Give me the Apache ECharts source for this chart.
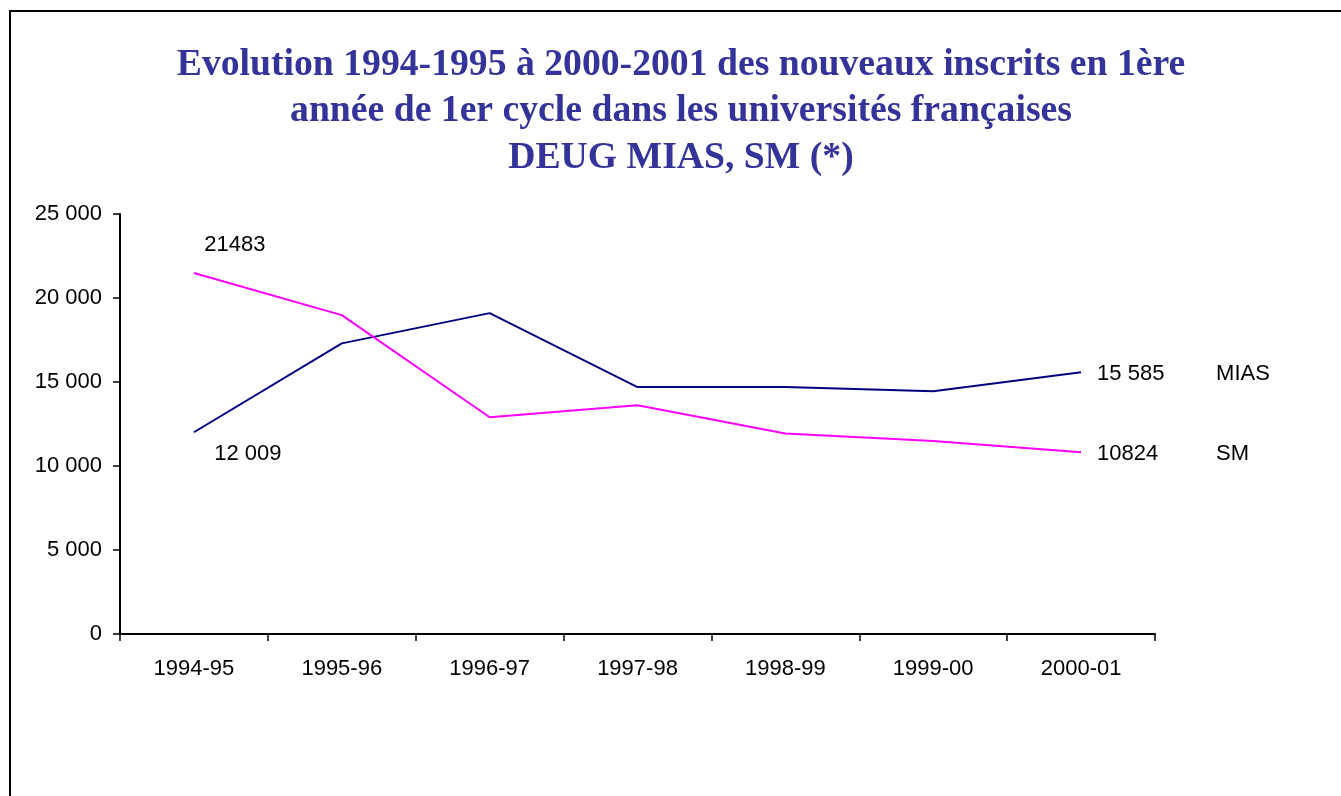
<!DOCTYPE html>
<html>
<head>
<meta charset="utf-8">
<script src="https://cdn.jsdelivr.net/npm/echarts@6/dist/echarts.min.js"></script>
<style>
  html, body { margin: 0; padding: 0; background: #fff; }
  #chart { width: 1341px; height: 796px; }
</style>
</head>
<body>
<div id="chart"></div>
<script>
// données
var years = ['1994-95', '1995-96', '1996-97', '1997-98', '1998-99', '1999-00', '2000-01'];
var mias = [12009, 17300, 19100, 14700, 14700, 14450, 15585];
var sm = [21483, 18980, 12900, 13610, 11930, 11490, 10824];
var yTicks = [0, 5000, 10000, 15000, 20000, 25000];

var titleText = 'Evolution 1994-1995 à 2000-2001 des nouveaux inscrits en 1ère\nannée de 1er cycle dans les universités françaises\nDEUG MIAS, SM (*)';

function spaced(v) {
  return String(v).replace(/\B(?=(\d{3})+(?!\d))/g, ' ');
}

var chartDom = document.getElementById('chart');
var myChart = echarts.init(chartDom);
var option;

var font = '"Liberation Sans", Arial, sans-serif';

// seuls le premier et le dernier point portent une étiquette
function buildData(values, fmt, firstOffset) {
  return values.map(function (v, i) {
    var item = { value: v, label: { show: false } };
    if (i === 0) {
      item.label = { show: true, position: 'inside', offset: firstOffset, formatter: function (p) { return fmt(p.value); } };
    } else if (i === values.length - 1) {
      item.label = { show: true, position: 'right', distance: 16, offset: [0, 2], formatter: function (p) { return fmt(p.value); } };
    }
    return item;
  });
}

option = {
  animation: false,
  backgroundColor: '#fff',
  title: {
    text: titleText,
    left: 681,
    top: 42,
    padding: 0,
    textAlign: 'center',
    textStyle: {
      fontFamily: '"Liberation Serif", "Times New Roman", serif',
      fontWeight: 'bold',
      fontSize: 37.7,
      lineHeight: 46.5,
      color: '#333399'
    }
  },
  graphic: [{
    type: 'rect',
    shape: { x: 10, y: 11, width: 1400, height: 900 },
    style: { fill: 'none', stroke: '#000', lineWidth: 2 },
    z: -1
  }],
  grid: {
    left: 120,
    right: 186,
    top: 214,
    bottom: 162
  },
  xAxis: {
    type: 'category',
    data: years,
    boundaryGap: true,
    axisLine: { lineStyle: { color: '#000', width: 2 } },
    axisTick: { show: true, alignWithLabel: false, length: 7, lineStyle: { color: '#000', width: 1.5 } },
    axisLabel: { color: '#000', fontFamily: font, fontSize: 22, margin: 24, interval: 0 },
    splitLine: { show: false }
  },
  yAxis: {
    type: 'value',
    min: 0,
    max: 25000,
    interval: 5000,
    axisLine: { show: true, lineStyle: { color: '#000', width: 2 } },
    axisTick: { show: true, length: 7, lineStyle: { color: '#000', width: 1.5 } },
    axisLabel: {
      color: '#000', fontFamily: font, fontSize: 22, margin: 18,
      formatter: function (v) { return spaced(v); }
    },
    splitLine: { show: false }
  },
  series: [
    {
      name: 'MIAS',
      type: 'line',
      data: buildData(mias, spaced, [54, 22]),
      symbol: 'circle',
      symbolSize: 0,
      showSymbol: true,
      lineStyle: { color: '#000080', width: 2 },
      itemStyle: { color: '#000080' },
      label: { color: '#000', fontFamily: font, fontSize: 22 },
      endLabel: { show: true, formatter: '{a}', distance: 135, offset: [0, 2], color: '#000', fontFamily: font, fontSize: 22 }
    },
    {
      name: 'SM',
      type: 'line',
      data: buildData(sm, function (v) { return String(v); }, [41, -28]),
      symbol: 'circle',
      symbolSize: 0,
      showSymbol: true,
      lineStyle: { color: '#ff00ff', width: 2 },
      itemStyle: { color: '#ff00ff' },
      label: { color: '#000', fontFamily: font, fontSize: 22 },
      endLabel: { show: true, formatter: '{a}', distance: 135, offset: [0, 2], color: '#000', fontFamily: font, fontSize: 22 }
    }
  ]
};

option && myChart.setOption(option);
</script>
</body>
</html>
